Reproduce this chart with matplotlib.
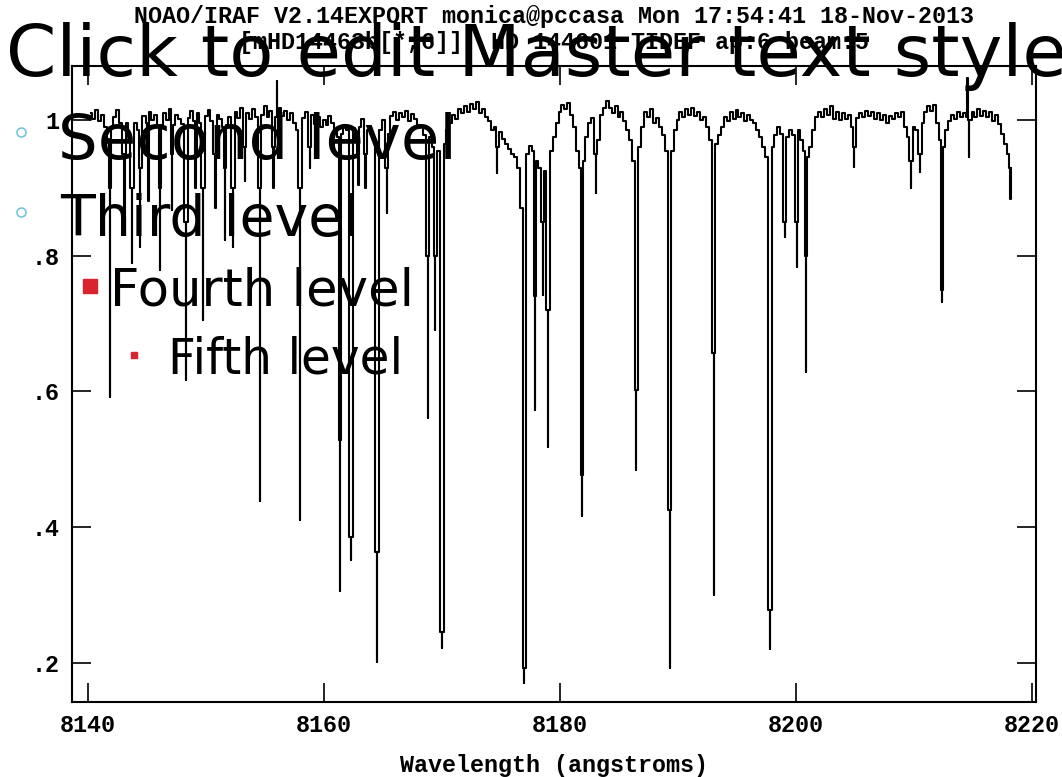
import numpy as np
import matplotlib.pyplot as plt

# normalised continuum, sampled every 0.25 A from 8140.25 A
cont_start = 8140.25
cont_step = 0.25
cont_flux = [
    1.010, 1.002, 1.015, 0.998, 1.008, 0.990, 0.972, 0.990,
    1.004, 1.015, 0.996, 1.010, 0.995, 0.983, 0.990, 0.996,
    0.985, 0.990, 1.006, 0.996, 1.012, 1.000, 1.008, 0.990,
    0.992, 1.010, 1.000, 1.016, 0.993, 1.008, 1.002, 0.994,
    0.990, 1.003, 1.014, 0.998, 1.010, 0.996, 0.985, 1.006,
    1.015, 0.999, 0.990, 1.008, 1.001, 0.990, 0.992, 1.004,
    0.994, 1.012, 1.003, 1.018, 0.999, 1.010, 1.002, 1.016,
    1.004, 0.990, 1.008, 1.020, 1.005, 1.014, 1.000, 1.012,
    1.018, 1.006, 1.014, 1.000, 1.011, 0.995, 0.985, 0.990,
    1.003, 1.012, 0.998, 1.008, 0.994, 1.004, 0.990, 1.000,
    0.992, 1.006, 0.996, 0.985, 0.975, 0.980, 0.992, 0.985,
    0.975, 0.988, 0.970, 0.990, 1.002, 0.993, 0.985, 0.980,
    0.970, 0.960, 0.985, 1.000, 0.990, 0.980, 1.006, 1.012,
    1.000, 1.010, 1.004, 1.014, 0.998, 1.009, 1.001, 0.993,
    0.990, 0.978, 0.965, 0.975, 0.960, 0.965, 0.955, 0.950,
    0.965, 0.985, 0.995, 1.008, 1.002, 1.016, 1.010, 1.020,
    1.012, 1.024, 1.016, 1.026, 1.010, 1.016, 1.004, 0.998,
    0.985, 0.990, 0.975, 0.982, 0.972, 0.965, 0.958, 0.950,
    0.945, 0.930, 0.870, 0.880, 0.950, 0.962, 0.955, 0.940,
    0.930, 0.920, 0.925, 0.910, 0.955, 0.975, 0.995, 1.012,
    1.022, 1.016, 1.025, 1.008, 0.990, 0.955, 0.930, 0.940,
    0.975, 0.995, 1.003, 0.994, 0.970, 1.008, 1.018, 1.028,
    1.018, 1.010, 1.020, 1.004, 1.012, 0.998, 0.985, 0.970,
    0.940, 0.925, 0.960, 0.990, 1.012, 1.004, 1.016, 0.995,
    1.003, 0.990, 0.978, 0.955, 0.930, 0.955, 0.985, 1.000,
    1.012, 1.004, 1.016, 1.008, 1.018, 1.006, 1.012, 1.000,
    1.005, 0.990, 0.970, 0.950, 0.965, 0.978, 0.990, 1.004,
    0.998, 1.012, 1.002, 1.015, 1.004, 1.010, 0.998, 1.008,
    1.000, 0.995, 0.985, 0.975, 0.960, 0.945, 0.935, 0.960,
    0.978, 0.990, 0.980, 0.992, 0.975, 0.985, 0.978, 0.975,
    0.985, 0.970, 0.955, 0.945, 0.960, 0.985, 1.005, 1.012,
    1.004, 1.016, 1.008, 1.020, 1.002, 1.012, 1.000, 1.010,
    1.002, 1.008, 0.990, 0.985, 1.003, 1.010, 1.004, 1.014,
    1.006, 1.012, 1.002, 1.010, 1.000, 1.008, 0.996, 1.006,
    1.002, 1.010, 1.004, 1.012, 0.990, 0.975, 0.980, 0.990,
    0.985, 0.975, 0.995, 1.012, 1.020, 1.014, 1.022, 0.995,
    0.970, 0.960, 0.985, 0.998, 1.008, 1.002, 1.012, 1.005,
    1.010, 0.998, 1.000, 1.012, 1.004, 1.016, 1.006, 1.014,
    1.004, 1.012, 0.998, 1.008, 0.994, 0.980, 0.965, 0.950,
]

# absorption lines (and two spikes): centre, flux at the line flanks, flux at the core
line_center = [8141.86, 8143.08, 8143.73, 8144.41, 8145.10, 8146.10, 8147.12,
               8148.31, 8149.10, 8149.75, 8150.80, 8151.60, 8152.29, 8153.30,
               8154.58, 8155.70, 8156.00, 8157.97, 8158.80, 8161.36, 8162.29,
               8162.90, 8163.50, 8164.49, 8165.34, 8168.81, 8169.41, 8170.00,
               8174.66, 8176.95, 8177.88, 8178.56, 8178.98, 8181.86, 8183.05,
               8186.44, 8189.32, 8193.05, 8197.80, 8199.07, 8200.08, 8200.85,
               8204.92, 8209.75, 8210.50, 8212.37, 8214.55, 8214.65, 8218.20]
line_mid = [0.900, 0.950, 0.900, 0.930, 0.950, 0.900, 0.950,
            0.850, 0.950, 0.900, 0.950, 0.930, 0.900, 0.960,
            0.900, 0.960, 1.005, 0.900, 0.960, 0.529, 0.386,
            0.950, 0.950, 0.364, 0.930, 0.800, 0.800, 0.246,
            0.960, 0.193, 0.740, 0.850, 0.720, 0.477, 0.950,
            0.602, 0.425, 0.657, 0.278, 0.850, 0.850, 0.800,
            0.960, 0.940, 0.950, 0.750, 1.005, 1.000, 0.930]
line_min = [0.592, 0.860, 0.789, 0.813, 0.880, 0.779, 0.867,
            0.617, 0.900, 0.705, 0.870, 0.823, 0.813, 0.910,
            0.439, 0.900, 1.057, 0.411, 0.930, 0.306, 0.352,
            0.904, 0.900, 0.2015, 0.863, 0.561, 0.690, 0.222,
            0.922, 0.170, 0.573, 0.742, 0.518, 0.417, 0.892,
            0.484, 0.193, 0.300, 0.221, 0.828, 0.783, 0.629,
            0.931, 0.900, 0.923, 0.732, 1.062, 0.945, 0.884]

xticks = [8140, 8160, 8180, 8200, 8220]
yticks = [0.2, 0.4, 0.6, 0.8, 1.0]
ytick_labels = ['.2', '.4', '.6', '.8', '1']

# merge continuum samples with the line cores
centers = np.array(line_center)
grid = cont_start + cont_step * np.arange(len(cont_flux))
keep = np.array([np.min(np.abs(centers - w)) > 0.1 for w in grid])
half = 0.05
lw_ = np.ravel([[c - half, c, c + half] for c in line_center])
lf_ = np.ravel([[m, f, m] for m, f in zip(line_mid, line_min)])
wave = np.concatenate([grid[keep], lw_])
flux = np.concatenate([np.array(cont_flux)[keep], lf_])
order = np.argsort(wave, kind='mergesort')
wave, flux = wave[order], flux[order]

plt.rcParams['font.family'] = ['Liberation Mono', 'DejaVu Sans Mono']
plt.rcParams['font.weight'] = 'bold'

W, H = 1062, 777
fig = plt.figure(figsize=(W / 100, H / 100), dpi=100, facecolor='white')
ax = fig.add_axes([72 / W, 1 - 702 / H, 964 / W, 636 / H])

ax.plot(wave, flux, drawstyle='steps-mid', color='black', lw=1.5)
ax.set_xlim(8138.64, 8220.34)
ax.set_ylim(0.1425, 1.0796)
ax.set_xticks(xticks)
ax.set_yticks(yticks)
ax.set_yticklabels(ytick_labels)
ax.tick_params(direction='in', length=14, width=1.2, top=True, right=True,
               labelsize=16.8, pad=9)
for s in ax.spines.values():
    s.set_linewidth(1.5)
ax.set_xlabel('Wavelength (angstroms)', fontsize=16.8, fontweight='bold',
              labelpad=12)

ax.text(0.5, 1.0 + 49 / 636, 'NOAO/IRAF V2.14EXPORT monica@pccasa Mon 17:54:41 18-Nov-2013',
        transform=ax.transAxes, ha='center', va='center', fontsize=16.8)
ax.text(0.5, 1.0 + 24 / 636, '[mHD14463b[*,6]]: HD 144601 TIDEF ap:6 beam:5',
        transform=ax.transAxes, ha='center', va='center', fontsize=16.8)

# slide placeholder text on top, in pixel coordinates
ov = fig.add_axes([0, 0, 1, 1])
ov.set_xlim(0, W)
ov.set_ylim(H, 0)
ov.axis('off')

levels = ['Click to edit Master text styles', 'Second level', 'Third level',
          'Fourth level', 'Fifth level']
sizes = [52, 45, 41, 37, 35]
xs = [6, 58, 60, 110, 168]
ys = [76, 159, 236, 306, 373]
for txt, fs, x, y in zip(levels, sizes, xs, ys):
    ov.text(x, y, txt, fontsize=fs, family='DejaVu Sans', fontweight='normal',
            ha='left', va='baseline', color='black')

cyan = '#6cc3dc'
red = '#d9232e'
ov.plot([21, 21], [132, 212], ls='none', marker='o', ms=6.5, mfc='none',
        mec=cyan, mew=1.1)
ov.plot([89.5], [285.5], ls='none', marker='s', ms=9.4, color=red)
ov.plot([134], [355], ls='none', marker='s', ms=4.2, color=red)

fig.savefig('out.png', dpi=100, facecolor='white')
